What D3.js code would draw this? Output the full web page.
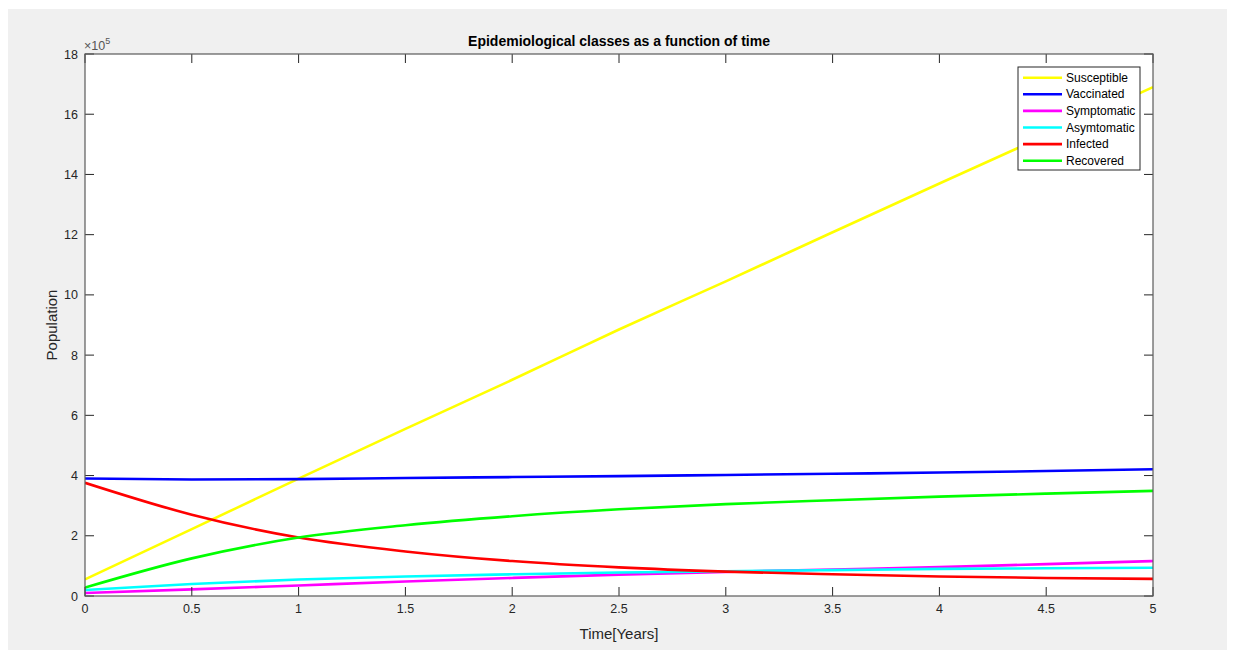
<!DOCTYPE html>
<html><head><meta charset="utf-8">
<script src="https://cdn.jsdelivr.net/npm/d3@7"></script>
<style>body{margin:0;background:#fff;}svg{display:block;font-family:"Liberation Sans",Arial,sans-serif;}</style>
</head><body>
<svg id="c" width="1233" height="655"></svg>
<script>
const time = [0, 0.5, 1, 1.5, 2, 2.5, 3, 3.5, 4, 4.5, 5];
const susceptible = [55000, 222000, 390000, 555000, 718000, 885000, 1045000, 1208000, 1370000, 1530000, 1690000];
const vaccinated  = [390000, 387000, 388000, 392000, 395000, 398000, 402000, 406000, 410000, 415000, 421000];
const symptomatic = [10000, 22000, 35000, 48000, 60000, 71000, 80000, 88000, 96000, 106000, 116000];
const asymptomatic= [20000, 40000, 55000, 65000, 72000, 78000, 82000, 86000, 90000, 92000, 94000];
const infected    = [376000, 270000, 194000, 148000, 116000, 95000, 81000, 72000, 65000, 60000, 57000];
const recovered   = [28000, 125000, 194000, 235000, 265000, 288000, 305000, 318000, 330000, 340000, 349000];
const seriesNames = ["Susceptible","Vaccinated","Symptomatic","Asymtomatic","Infected","Recovered"];
const seriesColors = ["#ffff00","#0000ff","#ff00ff","#00ffff","#ff0000","#00ff00"];
const seriesData = [susceptible, vaccinated, symptomatic, asymptomatic, infected, recovered];
const xTicks = [0,0.5,1,1.5,2,2.5,3,3.5,4,4.5,5];
const yTicks = [0,2,4,6,8,10,12,14,16,18];

const svg = d3.select("#c");
svg.append("rect").attr("x",8).attr("y",9).attr("width",1219).attr("height",641).attr("fill","#f0f0f0");

const L=85, R=1153, T=54, B=596;
const x = d3.scaleLinear().domain([0,5]).range([L,R]);
const y = d3.scaleLinear().domain([0,18]).range([B,T]);

svg.append("rect").attr("x",L).attr("y",T).attr("width",R-L).attr("height",B-T).attr("fill","#fff");

const g = svg.append("g");
const line = d3.line().x((d,i)=>x(time[i])).y(d=>y(d/1e5)).curve(d3.curveMonotoneX);
svg.append("clipPath").attr("id","cl").append("rect").attr("x",L).attr("y",T).attr("width",R-L).attr("height",B-T);
seriesData.forEach((s,k)=>{
  g.append("path").datum(s).attr("d",line).attr("fill","none").attr("stroke",seriesColors[k]).attr("stroke-width",2.6).attr("clip-path","url(#cl)");
});

const tl = 9;
const axCol = "#262626";
const ax = svg.append("g").attr("stroke",axCol).attr("stroke-width",1);
xTicks.forEach(t=>{
  ax.append("line").attr("x1",x(t)).attr("x2",x(t)).attr("y1",B).attr("y2",B-tl);
  ax.append("line").attr("x1",x(t)).attr("x2",x(t)).attr("y1",T).attr("y2",T+tl);
});
yTicks.forEach(t=>{
  ax.append("line").attr("x1",L).attr("x2",L+tl).attr("y1",y(t)).attr("y2",y(t));
  ax.append("line").attr("x1",R).attr("x2",R-tl).attr("y1",y(t)).attr("y2",y(t));
});
svg.append("rect").attr("x",L).attr("y",T).attr("width",R-L).attr("height",B-T).attr("fill","none").attr("stroke","#5a5a5a").attr("stroke-width",1.2);

const tx = svg.append("g").attr("font-size",12.5).attr("fill",axCol);
xTicks.forEach(t=>{
  tx.append("text").attr("x",x(t)).attr("y",B+17).attr("text-anchor","middle").text(d3.format("")(t));
});
yTicks.forEach(t=>{
  tx.append("text").attr("x",L-7).attr("y",y(t)+4.5).attr("text-anchor","end").text(t);
});
const ex = svg.append("text").attr("x",L-1).attr("y",T-4).attr("font-size",12.5).attr("fill","#555");
ex.append("tspan").text("\u00d710");
ex.append("tspan").attr("dy",-6).attr("font-size",9).text("5");

svg.append("text").attr("x",(L+R)/2).attr("y",46).attr("text-anchor","middle").attr("font-size",14).attr("font-weight","bold").attr("fill","#000").text("Epidemiological classes as a function of time");
svg.append("text").attr("x",(L+R)/2).attr("y",639).attr("text-anchor","middle").attr("font-size",15).attr("fill",axCol).text("Time[Years]");
svg.append("text").attr("transform",`translate(57,${(T+B)/2}) rotate(-90)`).attr("text-anchor","middle").attr("font-size",15).attr("fill",axCol).text("Population");

const lg = svg.append("g");
lg.append("rect").attr("x",1018).attr("y",67).attr("width",122).attr("height",103).attr("fill","#fff").attr("stroke","#262626").attr("stroke-width",1);
seriesNames.forEach((n,k)=>{
  const yy = 77.7 + k*16.6;
  lg.append("line").attr("x1",1023).attr("x2",1062).attr("y1",yy).attr("y2",yy).attr("stroke",seriesColors[k]).attr("stroke-width",2.6);
  lg.append("text").attr("x",1066).attr("y",yy+4).attr("font-size",12).attr("fill","#000").text(n);
});
</script>
</body></html>
